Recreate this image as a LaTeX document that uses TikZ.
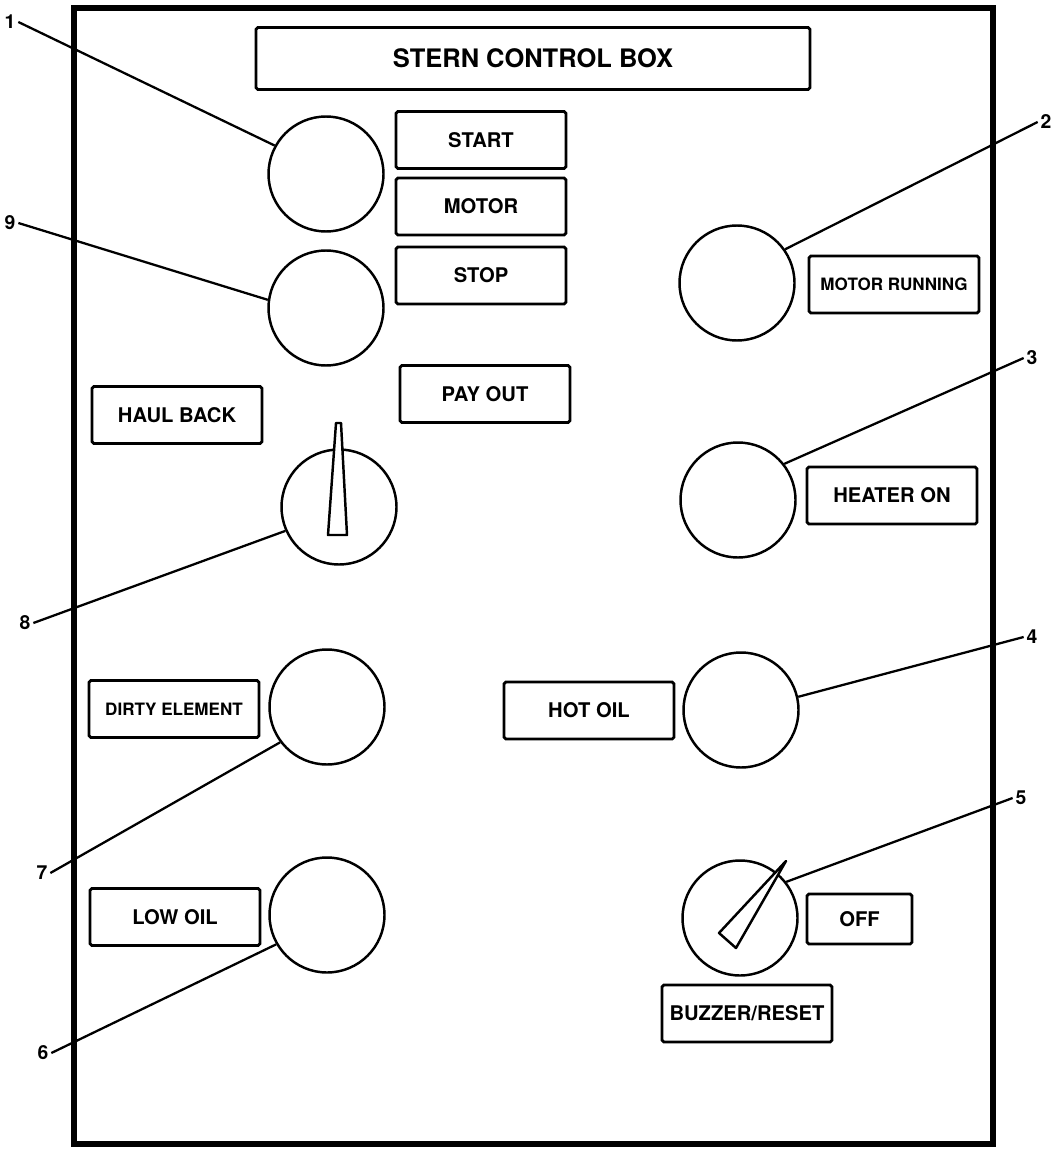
\documentclass[tikz,border=0pt]{standalone}
\usepackage{fontspec}
\setmainfont{TeX Gyre Heros}
\usepackage{tikz}

\begin{document}
\begin{tikzpicture}[x=0.02cm, y=-0.02cm,
  casing/.style={line width=3.4pt},
  box/.style={draw, line width=1.6pt, rounded corners=1pt, minimum width=3.4cm, minimum height=1.14cm,
    inner sep=0pt, font=\bfseries\fontsize{11.5}{13}\selectfont},
  sbox/.style={box, font=\bfseries\fontsize{9.7}{11}\selectfont},
  lamp/.style={draw, circle, line width=1.4pt, minimum size=2.3cm, inner sep=0pt},
  needle/.style={draw, fill=white, line width=1.4pt, line join=round},
  tag/.style={inner sep=1.5pt, font=\bfseries\fontsize{11}{12}\selectfont},
  lead/.style={line width=1.3pt}
]
\useasboundingbox (0,0) rectangle (1057,1152);
\draw[casing] (74,8) rectangle (993,1144);

\node[box, minimum width=11.08cm, minimum height=1.24cm,
  font=\bfseries\fontsize{14.5}{16}\selectfont] (title) at (533,58.5) {STERN CONTROL BOX};

\node[box] (tstart) at (481,140)   {START};
\node[box] (tmotor) at (481,206.5) {MOTOR};
\node[box] (tstop)  at (481,275.5) {STOP};
\node[box] (tpay)   at (485,394)   {PAY OUT};
\node[box] (thaul)  at (177,415)   {HAUL BACK};
\node[sbox] (trun)  at (894,284.5) {MOTOR RUNNING};
\node[box] (theat)  at (892,495.5) {HEATER ON};
\node[sbox] (tdirty) at (174,709)  {DIRTY ELEMENT};
\node[box] (thot)   at (589,710.5) {HOT OIL};
\node[box] (tlow)   at (175,917)   {LOW OIL};
\node[box, minimum width=2.1cm, minimum height=1cm] (toff) at (859.5,919) {OFF};
\node[box] (tbuzz)  at (747,1013.5) {BUZZER/RESET};

\node[lamp] (bstart) at (326,174) {};
\node[lamp] (bstop)  at (326,308) {};
\node[lamp] (sel)    at (339,507) {};
\node[lamp] (lrun)   at (737,283) {};
\node[lamp] (lheat)  at (738,500) {};
\node[lamp] (lhot)   at (741,710) {};
\node[lamp] (ldirty) at (327,707) {};
\node[lamp] (llow)   at (327,915) {};
\node[lamp] (buzz)   at (740,918) {};

\draw[needle] (336,423) -- (341,423) -- (347,535) -- (328,535) -- cycle;
\draw[needle] (786,861) -- (736,948) -- (719,933) -- cycle;

\node[tag] (n1) at (10,22)    {1};
\node[tag] (n9) at (10,223)   {9};
\node[tag] (n8) at (25,623)   {8};
\node[tag] (n7) at (42,873)   {7};
\node[tag] (n6) at (43,1053)  {6};
\node[tag] (n2) at (1046,122) {2};
\node[tag] (n3) at (1032,358) {3};
\node[tag] (n4) at (1032,637) {4};
\node[tag] (n5) at (1021,798) {5};

\draw[lead] (bstart.151) -- (n1.east);
\draw[lead] (bstop.172) -- (n9.east);
\draw[lead] (sel.204) -- (n8.east);
\draw[lead] (ldirty.217) -- (n7.east);
\draw[lead] (llow.210) -- (n6.east);
\draw[lead] (lrun.35) -- (n2.west);
\draw[lead] (lheat.38) -- (n3.west);
\draw[lead] (lhot.13) -- (n4.west);
\draw[lead] (buzz.38) -- (n5.west);
\end{tikzpicture}
\end{document}
